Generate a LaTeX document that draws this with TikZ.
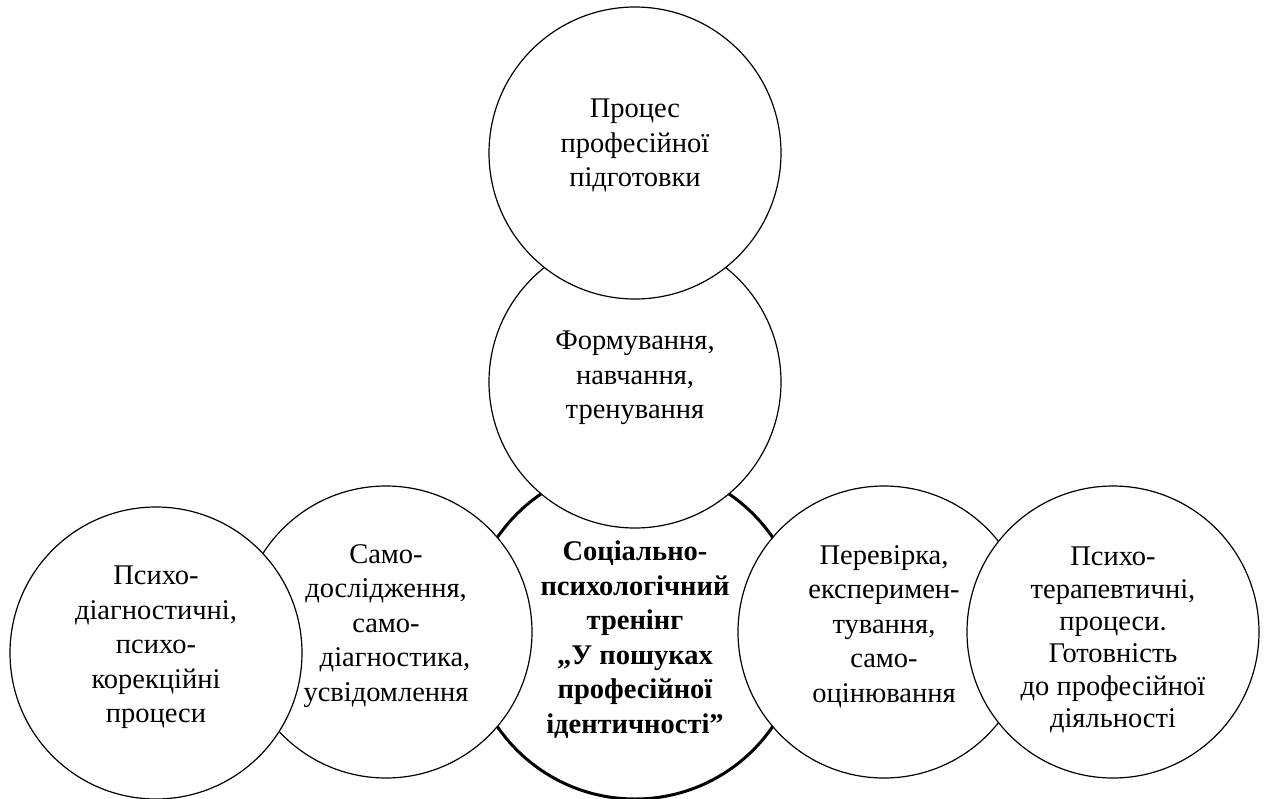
\documentclass[tikz,border=0pt]{standalone}
\usepackage{fontspec}
\setmainfont{Liberation Serif}
\begin{document}
\begin{tikzpicture}[x=1pt,y=-1pt,
  bubble/.style={circle, draw=black, line width=1.2pt, fill=white, minimum size=292pt, inner sep=0pt},
  mainbubble/.style={bubble, line width=3pt, minimum size=334pt},
  txt/.style={align=center, anchor=north, inner sep=0pt, font=\fontsize{28.5}{34.5}\selectfont},
  txtb/.style={txt, font=\fontsize{28.5}{34.5}\selectfont\bfseries},
  txtn/.style={txt, font=\fontsize{28.5}{32.3}\selectfont}
]
\useasboundingbox (0,0) rectangle (1269,798);
% circles, back to front
\node[mainbubble] (main) at (635,632) {};
\node[bubble] (form) at (635,382) {};
\node[bubble] (proc) at (635,153) {};
\node[bubble] (samo) at (386,632) {};
\node[bubble] (psyl) at (156,653) {};
\node[bubble] (perev) at (884,632) {};
\node[bubble] (psyr) at (1113,632) {};
% texts
\node[txt] (tproc) at (635,99) {Процес\\професійної\\підготовки};
\node[txt] (tform) at (635,331) {Формування,\\навчання,\\тренування};
\node[txt] (tsamo) at (386,544) {Само-\\дослідження,\\само-\\\hspace*{18pt}діагностика,\\усвідомлення};
\node[txt] (tpsyl) at (156,566) {Психо-\\діагностичні,\\психо-\\корекційні\\процеси};
\node[txtb] (tmain) at (635,541) {Соціально-\\психологічний\\тренінг\\„У пошуках\\професійної\\ідентичності”};
\node[txt] (tperev) at (884,545) {Перевірка,\\експеримен-\\тування,\\само-\\оцінювання};
\node[txtn] (tpsyr) at (1113,547) {Психо-\\терапевтичні,\\процеси.\\Готовність\\до професійної\\діяльності};
\end{tikzpicture}
\end{document}
